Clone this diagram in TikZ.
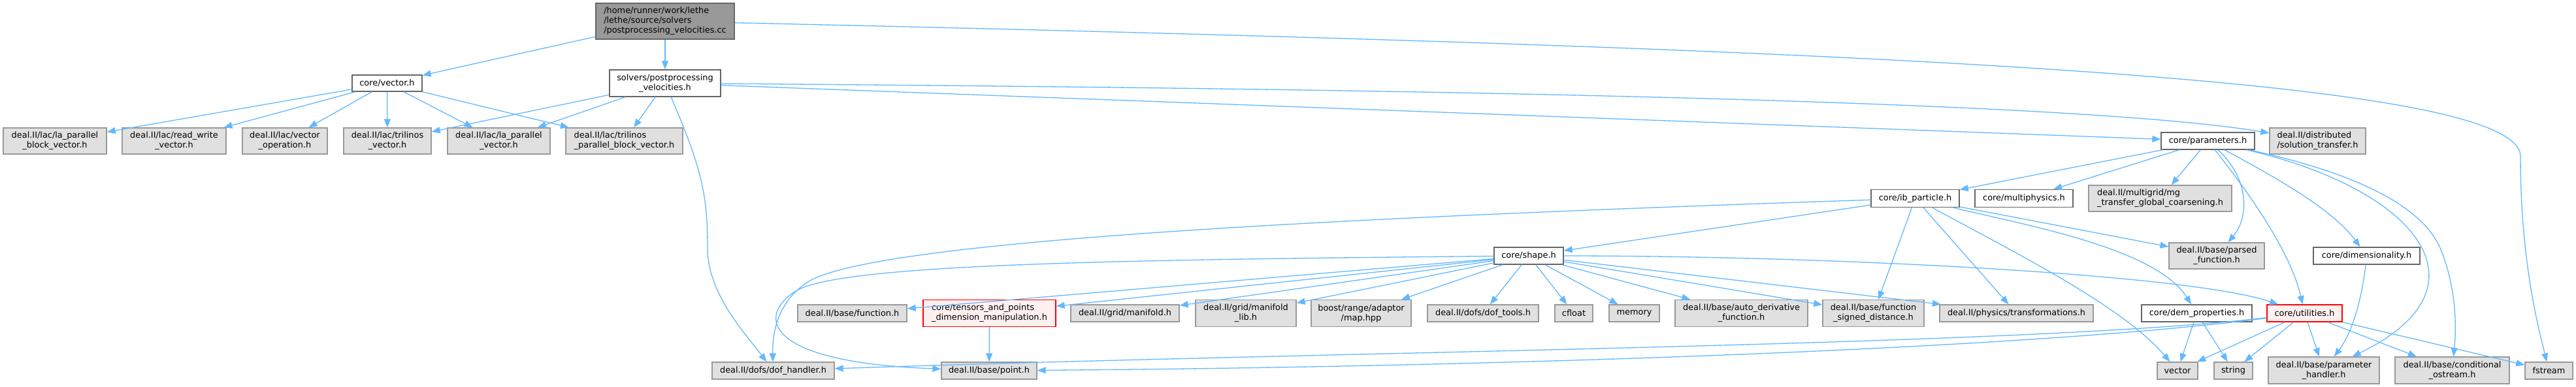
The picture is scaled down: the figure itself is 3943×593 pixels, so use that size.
\documentclass[tikz,border=0pt]{standalone}
\usepackage{fontspec}
\setmainfont{DejaVu Sans}
\usetikzlibrary{arrows.meta}
\definecolor{edgec}{HTML}{63B8FF}
\definecolor{gfill}{HTML}{E0E0E0}
\definecolor{gdraw}{HTML}{999999}
\definecolor{wdraw}{HTML}{666666}
\definecolor{rfill}{HTML}{FFF0F0}
\definecolor{mfill}{HTML}{999999}
\begin{document}
\begin{tikzpicture}[x=1pt,y=-1pt,
  nbase/.style={rectangle, inner sep=0pt, line width=1.3pt, font=\fontsize{12.9}{15}\selectfont, align=center, text=black},
  extbox/.style={nbase, fill=gfill, draw=gdraw},
  locbox/.style={nbase, fill=white, draw=wdraw},
  redbox/.style={nbase, fill=rfill, draw=red},
  mainbox/.style={nbase, fill=mfill, draw=wdraw},
  sz/.style 2 args={minimum width=#1pt, minimum height=#2pt},
  conn/.style={draw=edgec, line width=1.3pt, -{Triangle[length=13pt,width=10pt]}},
]
\useasboundingbox (0,0) rectangle (3943,593);

% row 0
\node[mainbox, sz={212}{55}, align=left] (main) at (1018,32.5) {/home/runner/work/lethe\\/lethe/source/solvers\\/postprocessing\_velocities.cc};
% row 1
\node[locbox, sz={107}{25}] (vec) at (592.5,127.5) {core/vector.h};
\node[locbox, sz={170}{41}] (pvh) at (1018,127.5) {solvers/postprocessing\\\_velocities.h};
% row 2
\node[extbox, sz={158}{40}] (lpbv) at (84,216) {deal.II/lac/la\_parallel\\\_block\_vector.h};
\node[extbox, sz={159}{40}] (rwv) at (266.5,216) {deal.II/lac/read\_write\\\_vector.h};
\node[extbox, sz={130}{40}] (vop) at (436,216) {deal.II/lac/vector\\\_operation.h};
\node[extbox, sz={134}{40}] (tv) at (593,216) {deal.II/lac/trilinos\\\_vector.h};
\node[extbox, sz={157}{40}] (lpv) at (763.5,216) {deal.II/lac/la\_parallel\\\_vector.h};
\node[extbox, sz={179}{40}, align=left] (tpbv) at (955.5,216) {deal.II/lac/trilinos\\\_parallel\_block\_vector.h};
\node[locbox, sz={143}{26}] (params) at (3379.5,216) {core/parameters.h};
\node[extbox, sz={147}{40}, align=left] (soltr) at (3547.5,216) {deal.II/distributed\\/solution\_transfer.h};
% row 3
\node[locbox, sz={135}{27}] (ibp) at (2931.5,304) {core/ib\_particle.h};
\node[locbox, sz={150}{27}] (mph) at (3098,304) {core/multiphysics.h};
\node[extbox, sz={219}{40}, align=left] (mgt) at (3306.5,304) {deal.II/multigrid/mg\\\_transfer\_global\_coarsening.h};
% row 4
\node[locbox, sz={106}{26}] (shape) at (2340,392) {core/shape.h};
\node[extbox, sz={146}{40}] (parsed) at (3393,392) {deal.II/base/parsed\\\_function.h};
\node[locbox, sz={163}{26}] (dimen) at (3622.5,392) {core/dimensionality.h};
% row 5
\node[extbox, sz={167}{26}] (func) at (1304.5,480) {deal.II/base/function.h};
\node[redbox, sz={203}{41}, align=left] (tens) at (1514.5,480) {core/tensors\_and\_points\\\_dimension\_manipulation.h};
\node[extbox, sz={166}{26}] (manif) at (1722,480) {deal.II/grid/manifold.h};
\node[extbox, sz={154}{41}] (maniflib) at (1907,480) {deal.II/grid/manifold\\\_lib.h};
\node[extbox, sz={153}{41}] (boost) at (2083.5,480) {boost/range/adaptor\\/map.hpp};
\node[extbox, sz={170}{26}] (doft) at (2270,480) {deal.II/dofs/dof\_tools.h};
\node[extbox, sz={58}{26}] (cfloat) at (2409,480) {cfloat};
\node[extbox, sz={77}{26}] (memory) at (2501.5,480) {memory};
\node[extbox, sz={203}{41}] (autod) at (2665.5,480) {deal.II/base/auto\_derivative\\\_function.h};
\node[extbox, sz={155}{41}] (fsd) at (2867.5,480) {deal.II/base/function\\\_signed\_distance.h};
\node[extbox, sz={235}{26}] (transf) at (3086.5,480) {deal.II/physics/transformations.h};
\node[locbox, sz={169}{26}] (dem) at (3362.5,480) {core/dem\_properties.h};
\node[redbox, sz={115}{26}] (util) at (3527.5,480) {core/utilities.h};
% row 6
\node[extbox, sz={187}{26}] (dofh) at (1183.5,568) {deal.II/dofs/dof\_handler.h};
\node[extbox, sz={146}{26}] (point) at (1514,568) {deal.II/base/point.h};
\node[extbox, sz={62}{26}] (vectorn) at (3333,568) {vector};
\node[extbox, sz={59}{26}] (string) at (3418.5,568) {string};
\node[extbox, sz={170}{41}] (ph) at (3557,567.5) {deal.II/base/parameter\\\_handler.h};
\node[extbox, sz={175}{41}] (cos) at (3753.5,567.5) {deal.II/base/conditional\\\_ostream.h};
\node[extbox, sz={73}{26}] (fstream) at (3901.5,568) {fstream};

% edges from main
\draw[conn] (main) -- (vec);
\draw[conn] (main) -- (pvh);
\draw[conn] (main) .. controls (2900,75) and (3860,120) .. (3858,240) .. controls (3858,400) and (3885,500) .. (fstream);
% core/vector.h
\foreach \t in {lpbv,rwv,vop,tv,lpv,tpbv} \draw[conn] (vec) -- (\t);
% solvers/postprocessing_velocities.h
\foreach \t in {tv,lpv,tpbv,params} \draw[conn] (pvh) -- (\t);
\draw[conn] (pvh) .. controls (1075,260) and (1083,300) .. (1083,380) .. controls (1083,450) and (1140,510) .. (dofh);
\draw[conn] (pvh) .. controls (2000,135) and (3150,150) .. (soltr);
% core/parameters.h
\foreach \t in {ibp,mph,mgt} \draw[conn] (params) -- (\t);
\draw[conn] (params) .. controls (3440,270) and (3445,330) .. (parsed);
\draw[conn] (params) .. controls (3430,280) and (3505,380) .. (util);
\draw[conn] (params) .. controls (3480,270) and (3570,320) .. (dimen);
\draw[conn] (params) .. controls (3700,290) and (3820,440) .. (ph);
\draw[conn] (params) .. controls (3560,255) and (3700,300) .. (3735,380) .. controls (3760,440) and (3760,500) .. (cos);
% core/ib_particle.h
\foreach \t in {shape,fsd,transf,parsed} \draw[conn] (ibp) -- (\t);
\draw[conn] (ibp) .. controls (2000,335) and (1350,370) .. (1240,430) .. controls (1190,460) and (1182,510) .. (dofh);
\draw[conn] (ibp) .. controls (3090,390) and (3250,470) .. (vectorn);
\draw[conn] (ibp) .. controls (3100,345) and (3300,380) .. (dem);
% core/shape.h
\foreach \t in {func,tens,manif,maniflib,boost,doft,cfloat,memory,autod,fsd,transf} \draw[conn] (shape) -- (\t);
\draw[conn] (shape) .. controls (1700,398) and (1290,405) .. (1220,445) .. controls (1160,480) and (1160,555) .. (point);
\draw[conn] (shape) .. controls (2800,392) and (3350,420) .. (util);
% core/tensors...
\draw[conn] (tens) -- (point);
% core/dem_properties.h
\foreach \t in {vectorn,string} \draw[conn] (dem) -- (\t);
% core/dimensionality.h
\draw[conn] (dimen) .. controls (3615,460) and (3600,510) .. (ph);
% core/utilities.h
\foreach \t in {vectorn,string,ph,cos,fstream} \draw[conn] (util) -- (\t);
\draw[conn] (util) .. controls (3100,530) and (2100,537) .. (dofh);
\draw[conn] (util) .. controls (3100,535) and (2300,562) .. (point);
\end{tikzpicture}
\end{document}
